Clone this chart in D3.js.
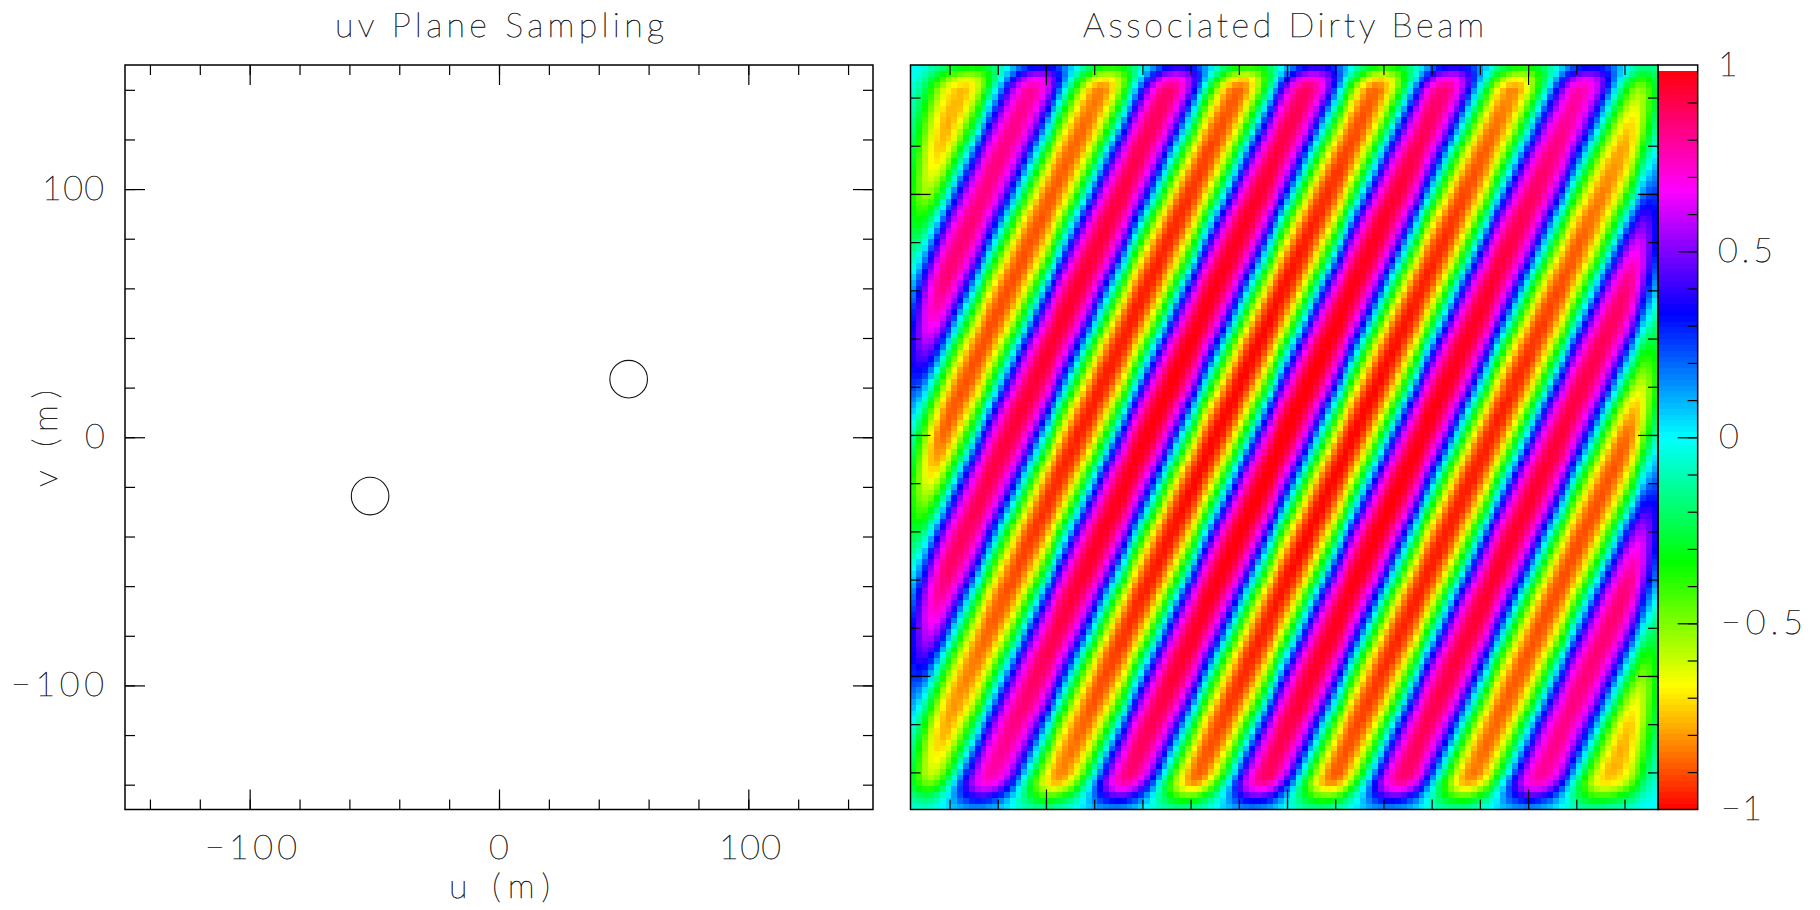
<!DOCTYPE html>
<html><head><meta charset="utf-8">
<script src="https://cdn.jsdelivr.net/npm/d3@7"></script>
<style>
html,body{margin:0;padding:0;background:#fff}
svg{display:block}
text{font-family:"Lato",sans-serif;font-weight:100;font-size:34px;fill:#222;stroke:#222;stroke-width:0.55px;text-rendering:geometricPrecision}
.ax line{stroke:#000;stroke-width:1.2px;shape-rendering:auto}
.ax path.domain{display:none}
</style></head><body><svg id="c" width="1820" height="910"></svg>
<script>
// ---- uv plane samples (metres)
const sampleU = [52.0, -51.7];
const sampleV = [23.4, -23.7];
const uvMinorTicks = d3.range(-140, 141, 20);
const uvMajorTicks = [-100, 0, 100];
const uvTickLabels = ["\u2212100", "0", "100"];
// ---- dirty beam, values
const ridgeCentre = [-229.2,-200.6,-172.1,-143.5,-115.0,-86.4,-57.9,-29.3,-0.8,27.8,56.3,84.9,113.4,142.0,170.5,199.1,227.6];
const ridgePeak   = [0,-1,1,-1,1,-1,1,-1,1,-1,1,-1,1,-1,1,-1,0];
const ridgeTilt   = 0.46;
const radialAt    = [0, 50, 100, 150, 200, 250];
const radialAmp   = [1.0, 0.99, 0.95, 0.87, 0.75, 0.60];
const edgeCells   = [0, 1, 2, 3, 4, 5, 6];
const sideFalloff   = [0.44, 0.58, 0.73, 0.85, 0.93, 0.98, 1];
const topFalloff    = [0.47, 0.66, 0.84, 0.94, 1, 1, 1];
const bottomFalloff = [0.22, 0.40, 0.58, 0.78, 0.92, 0.98, 1];
const beamMinorTicks = d3.range(-140, 141, 20);
const beamMajorTicks = [-100, 0, 100];
const beamCells = 128;
const beamPeak = 0.984;
// ---- colour bar
const barMinorTicks = d3.range(-9, 10).map(d => d / 10);
const barMajorTicks = [-1, -0.5, 0, 0.5, 1];
const barLabels = ["\u22121", "\u22120.5", "0", "0.5", "1"];
const barLevels = 128;

const svg = d3.select("#c");
const P = {l:125, r:873, t:65, b:809.5};
const H = {l:910.5, r:1658, t:65, b:809.5};
const B = {l:1658, r:1697.7, t:65.3, b:809.3};

const x = d3.scaleLinear().domain([-150,150]).range([P.l,P.r]);
const y = d3.scaleLinear().domain([-150,150]).range([P.b,P.t]);
const bx = d3.scaleLinear().domain([-156.2,153.9]).range([H.l,H.r]);
const by = d3.scaleLinear().domain([-155.4,153.5]).range([H.b,H.t]);
const cb = d3.scaleLinear().domain([-1,1]).range([B.b,B.t]);

const palette = d3.range(barLevels).map(i => d3.hsl(180 + 180*(-1 + 2*(i+0.5)/barLevels), 1, 0.5).formatHex());
const colour = d3.scaleQuantize().domain([-1,1]).range(palette);

const radial = d3.scaleLinear().domain(radialAt).range(radialAmp).clamp(true);
const side = d3.scaleLinear().domain(edgeCells).range(sideFalloff).clamp(true);
const topE = d3.scaleLinear().domain(edgeCells).range(topFalloff).clamp(true);
const botE = d3.scaleLinear().domain(edgeCells).range(bottomFalloff).clamp(true);

function fringe(s){
  const i = Math.max(0, Math.min(ridgeCentre.length-2, d3.bisectRight(ridgeCentre, s)-1));
  const a = ridgeCentre[i], b = ridgeCentre[i+1];
  const t = Math.max(0, Math.min(1, (s-a)/(b-a)));
  return d3.interpolateNumber(ridgePeak[i], ridgePeak[i+1])(d3.easeSinInOut(t));
}
const cellW = (H.r-H.l)/beamCells, cellH = (H.b-H.t)/beamCells;
const cells = d3.cross(d3.range(beamCells), d3.range(beamCells)).map(([c,r]) => {
  const vx = bx.invert(H.l + (c+0.5)*cellW), vy = by.invert(H.t + (r+0.5)*cellH);
  const v = fringe(vx - ridgeTilt*vy) * radial(Math.hypot(vx,vy))
    * side(c) * side(beamCells-1-c) * topE(r) * botE(beamCells-1-r);
  return {c, r, v};
});
svg.append("g").attr("shape-rendering","crispEdges").selectAll("rect").data(cells).join("rect")
  .attr("x", d => H.l + d.c*cellW).attr("y", d => H.t + d.r*cellH)
  .attr("width", cellW+0.6).attr("height", cellH+0.6)
  .attr("fill", d => colour(d.v));

// colour bar bands
const bands = d3.range(barLevels).filter(i => -1 + 2*i/barLevels < beamPeak);
svg.append("g").attr("shape-rendering","crispEdges").selectAll("rect").data(bands).join("rect")
  .attr("x", B.l).attr("width", B.r-B.l)
  .attr("y", i => Math.max(cb(beamPeak), cb(-1 + 2*(i+1)/barLevels)))
  .attr("height", i => cb(-1 + 2*i/barLevels) - Math.max(cb(beamPeak), cb(-1 + 2*(i+1)/barLevels)) + 0.6)
  .attr("fill", i => palette[i]);

// ticks
function ax(gen, scale, vals, len, tx, ty){
  svg.append("g").attr("class","ax").attr("transform",`translate(${tx},${ty})`)
    .call(gen(scale).tickValues(vals).tickSize(-len).tickSizeOuter(0).tickFormat(""));
}
function box(sx, sy, xb, yb, minorX, majorX, minorY, majorY){
  ax(d3.axisBottom, sx, minorX, 10, 0, yb[0]); ax(d3.axisBottom, sx, majorX, 20, 0, yb[0]);
  ax(d3.axisTop, sx, minorX, 10, 0, yb[1]);    ax(d3.axisTop, sx, majorX, 20, 0, yb[1]);
  ax(d3.axisLeft, sy, minorY, 10, xb[0], 0);   ax(d3.axisLeft, sy, majorY, 20, xb[0], 0);
  ax(d3.axisRight, sy, minorY, 10, xb[1], 0);  ax(d3.axisRight, sy, majorY, 20, xb[1], 0);
}
box(x, y, [P.l,P.r], [P.b,P.t], uvMinorTicks, uvMajorTicks, uvMinorTicks, uvMajorTicks);
box(bx, by, [H.l,H.r], [H.b,H.t], beamMinorTicks, beamMajorTicks, beamMinorTicks, beamMajorTicks);
ax(d3.axisRight, cb, barMinorTicks, 10, B.r, 0);
ax(d3.axisRight, cb, barMajorTicks.slice(1,4), 20, B.r, 0);

// frames
[[P.l,P.t,P.r,P.b],[H.l,H.t,H.r,H.b],[B.l,H.t,B.r,H.b]].forEach(([a,b,c,d]) =>
  svg.append("rect").attr("x",a).attr("y",b).attr("width",c-a).attr("height",d-b)
    .attr("fill","none").attr("stroke","#000").attr("stroke-width",1.5));

// uv samples
svg.append("g").selectAll("circle").data(d3.zip(sampleU,sampleV)).join("circle")
  .attr("cx", d => x(d[0])).attr("cy", d => y(d[1])).attr("r", 18.8)
  .attr("fill","none").attr("stroke","#111").attr("stroke-width",1.1);

// text
function label(str, xp, yp, width, rot){
  const t = svg.append("text").text(str).attr("x",xp).attr("y",yp).style("white-space","pre");
  if (width) t.attr("textLength",width).attr("lengthAdjust","spacing");
  if (rot) t.attr("transform",`rotate(${rot} ${xp} ${yp})`);
  return t;
}
label("uv Plane Sampling", 335, 37, 329);
label("Associated Dirty Beam", 1083, 37, 401);
label("u (m)", 449, 898, 101);
label("v (m)", 57, 487, 97, -90);
const xLab = [[205,92],[489,20],[719,62]];
uvMajorTicks.forEach((v,i) => label(uvTickLabels[i], xLab[i][0], 859, xLab[i][1]));
const yLab = [[11,93],[85,20],[42,62]];
uvMajorTicks.forEach((v,i) => label(uvTickLabels[i], yLab[i][0], y(v)+11, yLab[i][1]));
const barLab = [[1721,41],[1721,82],[1719,20],[1718,55],[1718,0]];
barMajorTicks.forEach((v,i) => label(barLabels[i], barLab[i][0], cb(v)+11, barLab[i][1]));
</script></body></html>
